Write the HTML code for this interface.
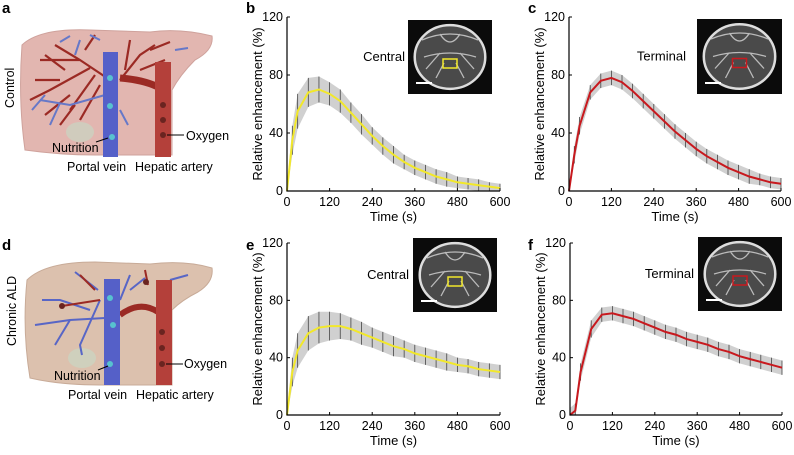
<!DOCTYPE html>
<html><head><meta charset="utf-8">
<style>
html,body{margin:0;padding:0;background:#fff;}
svg{display:block;font-family:"Liberation Sans",Arial,sans-serif;}
</style></head>
<body>
<svg id="fig" width="794" height="455" viewBox="0 0 794 455">
<g font-weight="bold" font-size="15" fill="#000">
<text x="2" y="13">a</text>
<text x="246" y="13">b</text>
<text x="528" y="13">c</text>
<text x="2" y="250">d</text>
<text x="246" y="250">e</text>
<text x="528" y="250">f</text>
</g>

<g>
<path d="M22,45 Q40,28 90,30 L150,32 Q180,28 212,36 Q214,50 195,60 Q180,75 172,90 L172,155 L95,155 Q60,155 25,150 Q18,100 22,45 Z" fill="#e2b6b0" stroke="#cfa29c"/>
<ellipse cx="80" cy="132" rx="14" ry="10" fill="#c9d6c3" opacity="0.7"/>
<g stroke="#9b2a24" stroke-width="2.2" fill="none">
<path d="M110,80 L80,60 L55,45 M80,60 L40,60 M90,68 L50,90 L30,100 M95,75 L70,110 M100,85 L80,120 M120,80 L140,55 L155,45 M140,70 L165,60 M125,70 L130,40 M60,80 L35,80 M70,95 L45,115 M85,50 L95,35 M65,70 L45,55 M75,105 L60,125 M150,50 L170,42"/>
</g>
<g stroke="#6678c8" stroke-width="2" fill="none">
<path d="M105,95 L70,105 L40,100 M60,103 L50,125 M100,40 L90,35 M60,42 L70,36 M175,50 L188,48 M120,110 L128,125 M45,95 L32,110 M80,40 L75,55"/>
</g>
<path d="M120,78 Q145,80 160,88" stroke="#9b2a24" stroke-width="7" fill="none"/>
<rect x="103" y="52" width="15" height="105" fill="#5560c8"/>
<rect x="155" y="62" width="16" height="95" fill="#b4403a"/>
<g fill="#57c2cf"><circle cx="110" cy="78" r="3"/><circle cx="110" cy="106" r="3"/><circle cx="112" cy="137" r="3"/></g>
<g fill="#6a2420"><circle cx="163" cy="105" r="3"/><circle cx="163" cy="120" r="3"/><circle cx="163" cy="135" r="3"/></g>
<line x1="96" y1="142" x2="108" y2="138" stroke="#000"/>
<line x1="167" y1="135" x2="184" y2="135" stroke="#000"/>
<g font-size="12.5" fill="#000">
<text x="52" y="152">Nutrition</text>
<text x="67" y="171">Portal vein</text>
<text x="135" y="171">Hepatic artery</text>
<text x="186" y="140">Oxygen</text>
<text transform="translate(14,108) rotate(-90)">Control</text>
</g>
</g>

<g>
<path d="M27,280 Q45,262 95,262 L150,264 Q185,260 212,268 Q214,282 198,292 Q182,300 172,310 L172,385 L100,385 Q60,385 30,378 Q22,330 27,280 Z" fill="#dcc1ae" stroke="#c8ab98"/>
<ellipse cx="82" cy="358" rx="14" ry="10" fill="#c9d6c3" opacity="0.7"/>
<g stroke="#5866c6" stroke-width="2" fill="none">
<path d="M105,318 L70,320 L35,325 M70,320 L55,345 M90,310 L60,300 L42,300 M98,290 L75,272 M100,300 L80,345 L82,355 M120,300 L130,275 M130,290 L145,278 M170,280 L188,275"/>
</g>
<g stroke="#9b2a24" stroke-width="2" fill="none">
<path d="M100,300 L62,306 M95,290 L80,275 M148,285 L145,270"/>
</g>
<path d="M120,315 Q140,300 158,312" stroke="#9b2a24" stroke-width="6" fill="none"/>
<rect x="104" y="279" width="16" height="106" fill="#5560c8"/>
<rect x="156" y="280" width="16" height="105" fill="#b4403a"/>
<g fill="#57c2cf"><circle cx="110" cy="298" r="3"/><circle cx="113" cy="325" r="3"/><circle cx="110" cy="364" r="3"/></g>
<g fill="#6a2420"><circle cx="62" cy="306" r="3"/><circle cx="146" cy="282" r="3"/><circle cx="162" cy="332" r="3"/><circle cx="162" cy="348" r="3"/><circle cx="162" cy="364" r="3"/></g>
<line x1="98" y1="370" x2="108" y2="366" stroke="#000"/>
<line x1="166" y1="364" x2="183" y2="364" stroke="#000"/>
<g font-size="12.5" fill="#000">
<text x="54" y="380">Nutrition</text>
<text x="68" y="399">Portal vein</text>
<text x="136" y="399">Hepatic artery</text>
<text x="184" y="368">Oxygen</text>
<text transform="translate(16,346) rotate(-90)">Chronic ALD</text>
</g>
</g>

<g id="charts"></g>
</svg>
<script>
const times = [0,15,30,60,90,120,150,180,210,240,270,300,330,360,390,420,450,480,510,540,570,600];
const xTicks = [0,120,240,360,480,600];
const yTicks = [0,40,80,120];
const centralControl = [0,35,55,68,70,67,62,54,46,38,31,25,20,16,13,10,8,6,5,4,3,2];
const centralControlSpread = [2,10,12,10,9,8,8,7,7,6,6,6,5,5,5,5,5,4,4,4,3,3];
const terminalControl = [0,25,45,68,76,78,75,69,62,55,48,41,35,29,24,20,16,13,10,8,6,5];
const terminalControlSpread = [2,6,6,5,5,5,5,5,5,5,5,5,5,5,5,5,5,5,5,4,4,4];
const centralAld = [0,30,45,57,61,62,62,60,57,54,51,48,46,43,41,39,37,35,34,32,31,30];
const centralAldSpread = [3,10,12,12,11,10,9,8,8,7,7,7,6,6,6,6,6,5,5,5,5,5];
const terminalAld = [0,3,30,60,70,71,69,67,64,61,58,56,53,51,49,46,44,41,39,37,35,33];
const terminalAldSpread = [5,5,6,6,5,5,5,5,5,5,5,5,5,5,5,5,5,5,5,5,5,5];

const NS = "http://www.w3.org/2000/svg";
const root = document.getElementById('charts');
function mk(tag, attrs, parent){
  const e = document.createElementNS(NS, tag);
  for (const k in attrs) e.setAttribute(k, attrs[k]);
  (parent||root).appendChild(e);
  return e;
}
function panel(id, x0, x1, y0, y1, vals, spread, color, label, labelX, inset){
  const g = mk('g', {});
  
  
  const sx = t => x0 + (t/600)*(x1-x0);
  const sy = v => y0 - (v/120)*(y0-y1);
  let pts = [];
  times.forEach((t,i)=>pts.push(sx(t)+','+sy(vals[i]+spread[i])));
  for (let i=times.length-1;i>=0;i--) pts.push(sx(times[i])+','+sy(Math.max(0,vals[i]-spread[i])));
  const band = mk('polygon', {points: pts.join(' '), fill:'#8a8a8a', opacity:'0.4'}, g);
  
  
  times.forEach((t,i)=>{
    const l = mk('line', {x1:sx(t), x2:sx(t), y1:sy(vals[i]+spread[i]), y2:sy(Math.max(0,vals[i]-spread[i])), stroke:'#444', 'stroke-width':'0.8'}, g);
    
    
  });
  const path = mk('polyline', {points: times.map((t,i)=>sx(t)+','+sy(vals[i])).join(' '), fill:'none', stroke:color, 'stroke-width':'2'}, g);
  
  
  const ax = mk('path', {d:`M${x0},${y1} L${x0},${y0} L${x1},${y0}`, stroke:'#000', fill:'none', 'stroke-width':'1.2'}, g);
  
  
  xTicks.forEach(t=>{
    mk('line', {x1:sx(t), x2:sx(t), y1:y0, y2:y0-3, stroke:'#000'}, g);
    const tx = mk('text', {x:sx(t), y:y0+15, 'font-size':'12.5', 'text-anchor':'middle'}, g);
    tx.textContent = t;
    
    
  });
  yTicks.forEach(v=>{
    mk('line', {x1:x0, x2:x0+3, y1:sy(v), y2:sy(v), stroke:'#000'}, g);
    const tx = mk('text', {x:x0-4, y:sy(v)+4, 'font-size':'12.5', 'text-anchor':'end'}, g);
    tx.textContent = v;
    
    
  });
  const xt = mk('text', {x:(x0+x1)/2, y:y0+30, 'font-size':'13', 'text-anchor':'middle'}, g);
  xt.textContent = 'Time (s)';
  
  
  const yt = mk('text', {transform:`translate(${x0-25},${(y0+y1)/2}) rotate(-90)`, 'font-size':'13', 'text-anchor':'middle'}, g);
  yt.textContent = 'Relative enhancement (%)';
  
  
  const [ix, iy, iw, ih] = inset;
  const ig = mk('g', {}, g);
  
  
  mk('rect', {x:ix, y:iy, width:iw, height:ih, fill:'#0b0b0b'}, ig);
  const cx = ix+iw/2, cy = iy+ih/2;
  mk('ellipse', {cx:cx, cy:cy, rx:iw*0.42, ry:ih*0.43, fill:'#4a4a4a', stroke:'#ddd', 'stroke-width':'2.5'}, ig);
  mk('path', {d:`M${ix+14},${iy+20} Q${cx},${iy+8} ${ix+iw-14},${iy+20} M${cx-10},${iy+14} Q${cx},${iy+30} ${cx+10},${iy+14} M${ix+16},${cy} Q${cx},${cy-8} ${ix+iw-16},${cy} M${cx-14},${iy+ih-16} L${cx-6},${cy+6} M${cx+14},${iy+ih-16} L${cx+6},${cy+6} M${ix+18},${cy+12} L${cx-10},${cy-4} M${ix+iw-18},${cy+12} L${cx+10},${cy-4}`, stroke:'#bbb', fill:'none', 'stroke-width':'1.3'}, ig);
  mk('rect', {x:cx-7, y:cy+2, width:14, height:9, fill:'none', stroke:color, 'stroke-width':'1.5'}, ig);
  mk('line', {x1:ix+8, x2:ix+24, y1:iy+ih-11, y2:iy+ih-11, stroke:'#fff', 'stroke-width':'2'}, ig);
  const lt = mk('text', {x:labelX, y:iy+ih/2+4, 'font-size':'13', 'text-anchor':'end'}, g);
  lt.textContent = label;
  
  
}
panel('central-control', 287, 500, 191, 17, centralControl, centralControlSpread, '#f2e82a', 'Central', 405, [408,20,84,74]);
panel('terminal-control', 569, 781, 191, 17, terminalControl, terminalControlSpread, '#c8191e', 'Terminal', 686, [697,19,85,75]);
panel('central-ald', 287, 500, 415, 243, centralAld, centralAldSpread, '#f2e82a', 'Central', 409, [413,238,84,74]);
panel('terminal-ald', 570, 782, 415, 243, terminalAld, terminalAldSpread, '#c8191e', 'Terminal', 694, [698,237,84,74]);
</script>
</body></html>
